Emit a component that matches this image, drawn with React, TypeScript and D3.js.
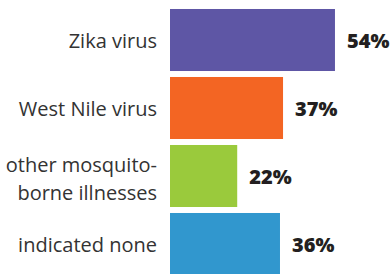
import React from 'react';
import * as d3 from 'd3';

const categories = ['Zika virus', 'West Nile virus', 'other mosquito-\nborne illnesses', 'indicated none'];
const values = [54, 37, 22, 36];
const colors = ['#5e56a5', '#f36523', '#9aca3c', '#3197ce'];

const width = 390;
const height = 274;

const App: React.FC = () => {
  const x = d3.scaleLinear().domain([0, 100]).range([170, 475.5]);
  const y = d3
    .scaleBand()
    .domain(categories)
    .range([6, 278])
    .paddingInner(0.088)
    .paddingOuter(0.044);

  return (
    <div>
      <style>{'body{margin:0}'}</style>
      <svg width={width} height={height} style={{ display: 'block' }}>
        {categories.map((c, i) => {
          const y0 = y(c) as number;
          const mid = y0 + y.bandwidth() / 2;
          const lines = c.split('\n');
          return (
            <g key={c}>
              <rect x={x(0)} y={y0} width={x(values[i]) - x(0)} height={y.bandwidth()} fill={colors[i]} />
              <text
                x={157}
                y={mid}
                textAnchor="end"
                fontFamily="'Open Sans', sans-serif"
                fontSize={20}
                fill="#333"
              >
                {lines.map((l, j) => (
                  <tspan key={j} x={157} dy={j === 0 ? `${0.38 - (lines.length - 1) * 0.6}em` : '1.4em'}>
                    {l}
                  </tspan>
                ))}
              </text>
              <text
                x={x(values[i]) + 12}
                y={mid}
                dy="0.38em"
                fontFamily="'Open Sans', sans-serif"
                fontWeight={800}
                fontSize={20}
                fill="#231f20"
              >
                {values[i]}%
              </text>
            </g>
          );
        })}
      </svg>
    </div>
  );
};

export default App;
